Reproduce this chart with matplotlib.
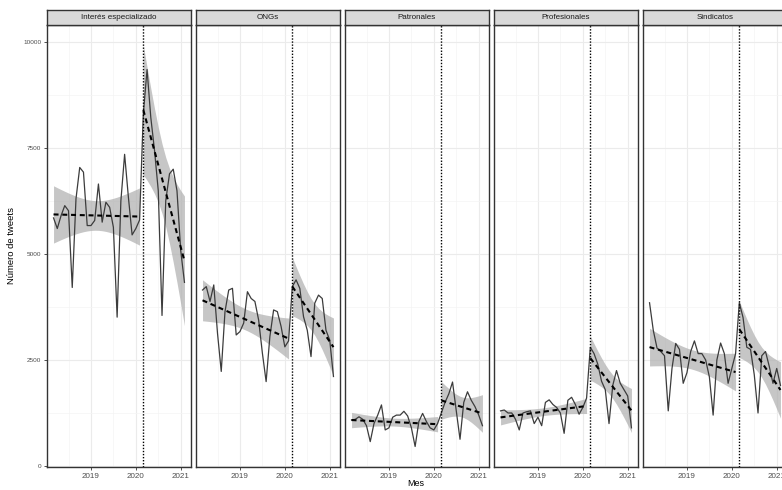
import numpy as np
import pandas as pd
import matplotlib.pyplot as plt
from matplotlib.ticker import MultipleLocator

plt.rcParams['font.family'] = ['Liberation Sans', 'DejaVu Sans']

# ==== Datos ====
meses = pd.date_range('2018-03-01', '2021-02-01', freq='MS')
corte = pd.Timestamp('2020-03-01')

paneles = ['Interés especializado', 'ONGs', 'Patronales', 'Profesionales', 'Sindicatos']

interes = [5850, 5600, 5900, 6140, 6020, 4210, 6300, 7040, 6930, 5670, 5670, 5790,
           6650, 5750, 6220, 6100, 5630, 3510, 6250, 7350, 6350, 5450, 5600, 5800,
           8300, 9350, 8220, 7440, 6490, 3550, 6260, 6890, 7000, 6490, 5080, 4330]
ongs = [4150, 4230, 3880, 4270, 3130, 2230, 3640, 4150, 4190, 3090, 3170, 3370,
        4110, 3950, 3880, 3440, 2660, 1990, 3050, 3680, 3640, 3290, 2810, 2950,
        4230, 4390, 4190, 3520, 3200, 2580, 3840, 4030, 3950, 3200, 2970, 2110]
patronales = [1085, 1100, 1160, 1100, 950, 575, 1000, 1200, 1440, 850, 900, 1150,
              1200, 1200, 1290, 1180, 900, 460, 1050, 1240, 1050, 900, 850, 1000,
              1250, 1500, 1700, 1980, 1300, 630, 1500, 1750, 1550, 1400, 1200, 950]
profesionales = [1300, 1320, 1250, 1250, 1100, 850, 1250, 1280, 1300, 1000, 1150, 950,
                 1500, 1560, 1450, 1380, 1250, 770, 1550, 1620, 1450, 1220, 1380, 1600,
                 2800, 2650, 2400, 2000, 1800, 1000, 1900, 2250, 1950, 1800, 1650, 900]
sindicatos = [3850, 3200, 2780, 2700, 2600, 1300, 2300, 2890, 2750, 1950, 2200, 2700,
              2950, 2650, 2650, 2500, 2100, 1200, 2500, 2900, 2650, 1950, 2300, 2650,
              3850, 3500, 2800, 2750, 2150, 1250, 2600, 2700, 2350, 1950, 2300, 1900]
series = [interes, ongs, patronales, profesionales, sindicatos]

y_ticks = [0, 2500, 5000, 7500, 10000]
x_ticks = [2019, 2020, 2021]

# valores t (95%) para gl = 22 y gl = 10
T_VALS = {24: 2.074, 12: 2.228}

W, H = 782, 490
GRID = '#EBEBEB'
BORDER = '#333333'
TXT = '#4D4D4D'


def decimal(fechas):
    return fechas.year + (fechas.month - 1) / 12


def ajuste(x, y):
    b, a = np.polyfit(x, y, 1)
    pred = a + b * x
    n = len(x)
    s = np.sqrt(np.sum((y - pred) ** 2) / (n - 2))
    se = s * np.sqrt(1 / n + (x - x.mean()) ** 2 / np.sum((x - x.mean()) ** 2))
    t = T_VALS[n]
    return pred, pred - t * se, pred + t * se


def px_axes(fig, left, top, width, height):
    return fig.add_axes([left / W, 1 - (top + height) / H, width / W, height / H])


x_all = np.asarray(decimal(meses), dtype=float)
x_corte = corte.year + (corte.month - 1) / 12
antes = meses < corte

fig = plt.figure(figsize=(W / 100, H / 100), dpi=100, facecolor='white')

lefts = [47, 196, 345, 494, 643]
for k, (nombre, vals) in enumerate(zip(paneles, series)):
    L = lefts[k]
    ax = px_axes(fig, L, 25, 144, 442)
    y = np.asarray(vals, dtype=float)

    for mask in (antes, ~antes):
        xs, ys = x_all[mask], y[mask]
        pred, lo, hi = ajuste(xs, ys)
        ax.fill_between(xs, lo, hi, color='#B0B0B0', alpha=0.72, lw=0, zorder=2)
        ax.plot(xs, pred, color='black', lw=1.5, ls=(0, (2.4, 1.8)), zorder=4)

    ax.plot(x_all, y, color='#3c3c3c', lw=0.9, zorder=3)
    ax.axvline(x_corte, color='black', lw=1.0, ls=(0, (1, 1.2)), zorder=5)

    ax.set_xlim(2018.021, 2021.229)
    ax.set_ylim(-24, 10400)
    ax.set_xticks(x_ticks)
    ax.set_xticklabels([str(v) for v in x_ticks])
    ax.xaxis.set_minor_locator(MultipleLocator(0.5))
    ax.set_yticks(y_ticks)
    ax.yaxis.set_minor_locator(MultipleLocator(1250))
    ax.grid(True, which='major', color=GRID, lw=0.8, zorder=0)
    ax.grid(True, which='minor', color='#F4F4F4', lw=0.5, zorder=0)
    ax.set_axisbelow(True)
    ax.tick_params(which='minor', length=0)
    ax.tick_params(which='major', length=2.5, width=0.6, color=BORDER,
                   labelcolor=TXT, pad=1.5)
    ax.tick_params(axis='x', labelsize=5.8)
    ax.tick_params(axis='y', labelsize=4.6)
    if k == 0:
        ax.set_yticklabels([str(v) for v in y_ticks])
    else:
        ax.tick_params(axis='y', left=False, labelleft=False)
    for sp in ax.spines.values():
        sp.set_color(BORDER)
        sp.set_linewidth(1.0)

    st = px_axes(fig, L, 10, 144, 15)
    st.set_facecolor('#D9D9D9')
    st.set_xticks([])
    st.set_yticks([])
    for sp in st.spines.values():
        sp.set_color(BORDER)
        sp.set_linewidth(1.0)
    st.text(0.5, 0.5, nombre, ha='center', va='center', fontsize=5.8, color='#1A1A1A',
            transform=st.transAxes)

fig.text(12 / W, 1 - 246 / H, 'Número de tweets', rotation=90, ha='center', va='center',
         fontsize=6.8, color='black')
fig.text(416 / W, 1 - 483 / H, 'Mes', ha='center', va='center', fontsize=6.5, color='black')

fig.savefig('out.png', dpi=100, facecolor='white')
